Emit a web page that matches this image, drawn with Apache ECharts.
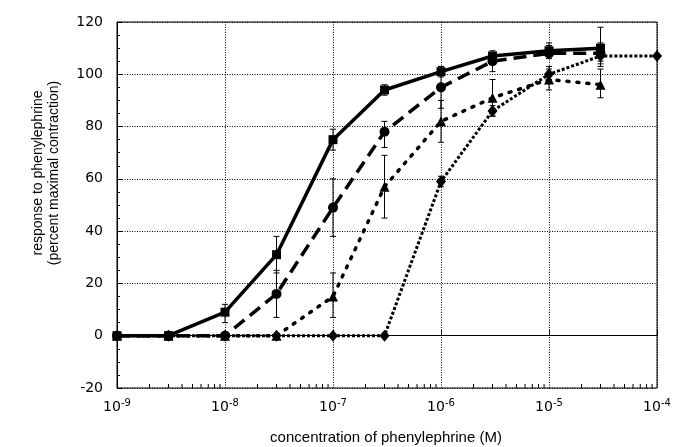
<!DOCTYPE html>
<html>
<head>
<meta charset="utf-8">
<script src="https://cdn.jsdelivr.net/npm/echarts@6/dist/echarts.min.js"></script>
<style>html,body{margin:0;padding:0;background:#fff}#c{width:679px;height:447px}</style>
</head>
<body>
<div id="c"></div>
<script>
// concentrations (M)
var conc = [1e-9, 3e-9, 1e-8, 3e-8, 1e-7, 3e-7, 1e-6, 3e-6, 1e-5, 3e-5, 1e-4];
// responses (% maximal contraction)
var squareVals   = [0, 0, 9, 31, 75, 94, 101, 107, 109, 110, null];
var circleVals   = [0, 0, 0, 16, 49, 78, 95, 105, 108, 108, null];
var triangleVals = [0, 0, 0, 0, 15, 57, 82, 91, 98, 96, null];
var diamondVals  = [0, 0, 0, 0, 0, 0, 59, 86, 100, 107, 107];
// error bars (low, high)
var squareLo   = [null, null, 5, 24, 71, 92, 99, 105, 107, 103, null];
var squareHi   = [null, null, 12, 38, 79, 96, 103, 109, 111, 118, null];
var circleLo   = [null, null, null, 7, 38, 72, 87, 101, 106, 104, null];
var circleHi   = [null, null, null, 25, 60, 82, 103, 108, 112, 112, null];
var triangleLo = [null, null, null, null, 7, 45, 74, 84, 94, 91, null];
var triangleHi = [null, null, null, null, 24, 69, 90, 98, 103, 102, null];
var diamondLo  = [null, null, null, null, null, null, 57, 84, 98, 105, null];
var diamondHi  = [null, null, null, null, null, null, 61, 88, 102, 109, null];
// axis ticks
var yTicks = [-20, 0, 20, 40, 60, 80, 100, 120];
var xDecades = [-9, -8, -7, -6, -5, -4];

function pairs(vals) {
  var out = [];
  for (var i = 0; i < conc.length; i++) if (vals[i] !== null) out.push([conc[i], vals[i]]);
  return out;
}
function errs(lo, hi) {
  var out = [];
  for (var i = 0; i < conc.length; i++) if (lo[i] !== null) out.push([conc[i], lo[i], hi[i]]);
  return out;
}
var minorX = [];
for (var d = 0; d < xDecades.length - 1; d++)
  for (var m = 2; m <= 9; m++) minorX.push([m * Math.pow(10, xDecades[d])]);

function errRender(params, api) {
  var x = api.value(0);
  var a = api.coord([x, api.value(1)]);
  var b = api.coord([x, api.value(2)]);
  var w = 3;
  var st = {stroke: '#000', lineWidth: 1};
  return {type: 'group', children: [
    {type: 'line', shape: {x1: a[0], y1: a[1], x2: b[0], y2: b[1]}, style: st},
    {type: 'line', shape: {x1: a[0]-w, y1: a[1], x2: a[0]+w, y2: a[1]}, style: st},
    {type: 'line', shape: {x1: b[0]-w, y1: b[1], x2: b[0]+w, y2: b[1]}, style: st}
  ]};
}
function minorRender(params, api) {
  var p = api.coord([api.value(0), yTicks[0]]);
  return {type: 'line', shape: {x1: p[0], y1: p[1], x2: p[0], y2: p[1] - 4}, style: {stroke: '#000', lineWidth: 1}};
}

var supMap = {};
var chart = echarts.init(document.getElementById('c'), null, {renderer: 'canvas'});
var lineBase = {type: 'line', symbolKeepAspect: true, color: '#000', z: 3};
chart.setOption({
  animation: false,
  backgroundColor: '#fff',
  grid: {left: 117, right: 22, top: 22, bottom: 59, show: true, borderColor: '#000', borderWidth: 1, backgroundColor: 'transparent'},
  xAxis: {
    type: 'log', logBase: 10, min: 1e-9, max: 1e-4,
    axisLine: {lineStyle: {color: '#000', width: 1}},
    axisTick: {inside: true, length: 6, lineStyle: {color: '#000'}},
    splitLine: {show: true, lineStyle: {color: '#000', type: [1, 1.5], width: 1}},
    axisLabel: {
      margin: 10, color: '#000',
      formatter: function (v) { return '{b|10}{s|' + Math.round(Math.log10(v)) + '}'; },
      rich: {
        b: {fontFamily: 'DejaVu Sans', fontSize: 14, color: '#000'},
        s: {fontFamily: 'DejaVu Sans', fontSize: 10, color: '#000', verticalAlign: 'top', padding: [0, 0, 8, 0]}
      }
    }
  },
  yAxis: {
    type: 'value', min: -20, max: 120, interval: 20,
    axisLine: {show: true, lineStyle: {color: '#000', width: 1}},
    axisTick: {show: true, inside: true, length: 6, lineStyle: {color: '#000'}},
    minorTick: {show: true, splitNumber: 4, length: 3, lineStyle: {color: '#000'}},
    splitLine: {show: true, lineStyle: {color: '#000', type: [1, 1.5], width: 1}},
    axisLabel: {margin: 14, color: '#000', fontFamily: 'DejaVu Sans', fontSize: 14}
  },
  graphic: [
    {type: 'text', x: 38, y: 173, rotation: Math.PI / 2, style: {text: 'response to phenylephrine', fontFamily: 'Liberation Sans', fontSize: 14, fill: '#000', align: 'center', verticalAlign: 'middle'}},
    {type: 'text', x: 54, y: 173, rotation: Math.PI / 2, style: {text: '(percent maximal contraction)', fontFamily: 'Liberation Sans', fontSize: 14, fill: '#000', align: 'center', verticalAlign: 'middle'}},
    {type: 'text', x: 386, y: 438, style: {text: 'concentration of phenylephrine (M)', fontFamily: 'Liberation Sans', fontSize: 15, fill: '#000', align: 'center', verticalAlign: 'middle'}}
  ],
  series: [
    {type: 'custom', renderItem: minorRender, data: minorX, silent: true, z: 2},
    Object.assign({}, lineBase, {name: 'diamond', data: pairs(diamondVals), symbol: 'diamond', symbolSize: [10, 12], lineStyle: {color: '#000', width: 3, type: [3, 2]}, itemStyle: {color: '#000'}}),
    Object.assign({}, lineBase, {name: 'triangle', data: pairs(triangleVals), symbol: 'triangle', symbolSize: 10, lineStyle: {color: '#000', width: 3.5, type: [2, 8], cap: 'round'}, itemStyle: {color: '#000'}}),
    Object.assign({}, lineBase, {name: 'circle', data: pairs(circleVals), symbol: 'circle', symbolSize: 10, lineStyle: {color: '#000', width: 3.5, type: [13, 7]}, itemStyle: {color: '#000'}}),
    Object.assign({}, lineBase, {name: 'square', data: pairs(squareVals), symbol: 'rect', symbolSize: 9, lineStyle: {color: '#000', width: 3.5, type: 'solid'}, itemStyle: {color: '#000'}}),
    {type: 'custom', renderItem: errRender, data: errs(diamondLo, diamondHi), z: 4, silent: true},
    {type: 'custom', renderItem: errRender, data: errs(triangleLo, triangleHi), z: 4, silent: true},
    {type: 'custom', renderItem: errRender, data: errs(circleLo, circleHi), z: 4, silent: true},
    {type: 'custom', renderItem: errRender, data: errs(squareLo, squareHi), z: 4, silent: true}
  ]
});
</script>
</body>
</html>
